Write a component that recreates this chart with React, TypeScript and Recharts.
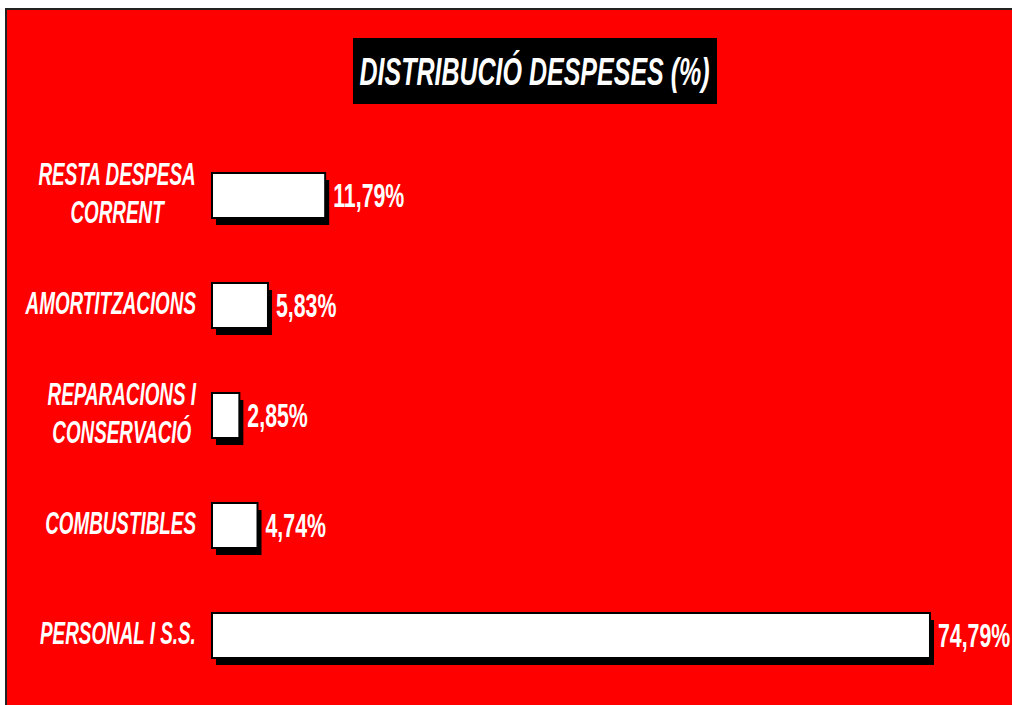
import { BarChart, Bar, XAxis, YAxis, LabelList } from 'recharts';

const CATEGORIES = [
  ['RESTA DESPESA', 'CORRENT'],
  ['AMORTITZACIONS'],
  ['REPARACIONS I', 'CONSERVACIÓ'],
  ['COMBUSTIBLES'],
  ['PERSONAL I S.S.'],
];
const SHARES = [11.79, 5.83, 2.85, 4.74, 74.79];
const VALUE_LABELS = ['11,79%', '5,83%', '2,85%', '4,74%', '74,79%'];
const TITLE = 'DISTRIBUCIÓ DESPESES (%)';

// no narrow face installed, so Arial-metric text gets squeezed horizontally
const FONT = '"Liberation Sans", Arial, sans-serif';
const NARROW = 0.82;

const data = CATEGORIES.map((lines, i) => ({
  name: lines.join(' '),
  value: SHARES[i],
  label: VALUE_LABELS[i],
}));

let ctx: CanvasRenderingContext2D | null = null;
function textWidth(s: string, size: number) {
  if (!ctx) ctx = document.createElement('canvas').getContext('2d');
  if (!ctx) return s.length * size * 0.5;
  ctx.font = `italic bold ${size}px ${FONT}`;
  return ctx.measureText(s).width * NARROW;
}

const TICK_SIZE = 23;

function CategoryTick(props: any) {
  const { x, y, payload } = props;
  const lines = CATEGORIES[payload.index] ?? [payload.value];
  const widths = lines.map((l) => textWidth(l, TICK_SIZE));
  const block = Math.max(...widths);
  const cx = x - block / 2;
  const lineGap = 38;
  const start = y - 2 - ((lines.length - 1) * lineGap) / 2;
  return (
    <g>
      {lines.map((l, i) => (
        <text
          key={l}
          transform={`translate(${cx},${start + i * lineGap}) scale(${NARROW},1.33)`}
          textAnchor="middle"
          dominantBaseline="central"
          fill="#fff"
          fontFamily={FONT}
          fontSize={TICK_SIZE}
          fontWeight="bold"
          fontStyle="italic"
        >
          {l}
        </text>
      ))}
    </g>
  );
}

function ShadowBar(props: any) {
  const { x, y, width, height } = props;
  return (
    <g>
      <rect x={x + 4} y={y + 7} width={width} height={height} fill="#000" />
      <rect x={x} y={y} width={width} height={height} fill="#fff" stroke="#000" strokeWidth={2} />
    </g>
  );
}

function ValueLabel(props: any) {
  const { x, y, width, height, index } = props;
  return (
    <text
      transform={`translate(${x + width + 8},${y + height / 2}) scale(${NARROW},1.3)`}
      dominantBaseline="central"
      fill="#fff"
      fontFamily={FONT}
      fontSize={26}
      fontWeight="bold"
    >
      {VALUE_LABELS[index]}
    </text>
  );
}

export default function App() {
  return (
    <div style={{ position: 'absolute', left: 0, top: 0, width: 1012, height: 705, background: '#fff', overflow: 'hidden' }}>
      <div
        style={{
          position: 'absolute',
          left: 5,
          top: 8,
          width: 1020,
          height: 710,
          background: '#ff0000',
          borderLeft: '2px solid #222',
          borderTop: '2px solid #222',
        }}
      />
      <div
        style={{
          position: 'absolute',
          left: 353,
          top: 38,
          width: 364,
          height: 66,
          background: '#000',
          display: 'flex',
          alignItems: 'center',
          justifyContent: 'center',
        }}
      >
        <span
          style={{
            color: '#fff',
            fontFamily: FONT,
            fontSize: 30.5,
            fontWeight: 'bold',
            fontStyle: 'italic',
            transform: `scale(${NARROW},1.26)`,
            display: 'inline-block',
            whiteSpace: 'nowrap',
          }}
        >
          {TITLE}
        </span>
      </div>
      <div style={{ position: 'absolute', left: 0, top: 0 }}>
        <BarChart
          width={1012}
          height={705}
          data={data}
          layout="vertical"
          margin={{ top: 140, right: 32, bottom: 15, left: 17 }}
          barSize={45}
        >
          <XAxis type="number" domain={[0, 80]} hide />
          <YAxis
            type="category"
            dataKey="name"
            width={195}
            axisLine={false}
            tickLine={false}
            tick={<CategoryTick />}
            tickMargin={10}
          />
          <Bar dataKey="value" shape={<ShadowBar />} isAnimationActive={false}>
            <LabelList dataKey="label" content={<ValueLabel />} />
          </Bar>
        </BarChart>
      </div>
    </div>
  );
}
